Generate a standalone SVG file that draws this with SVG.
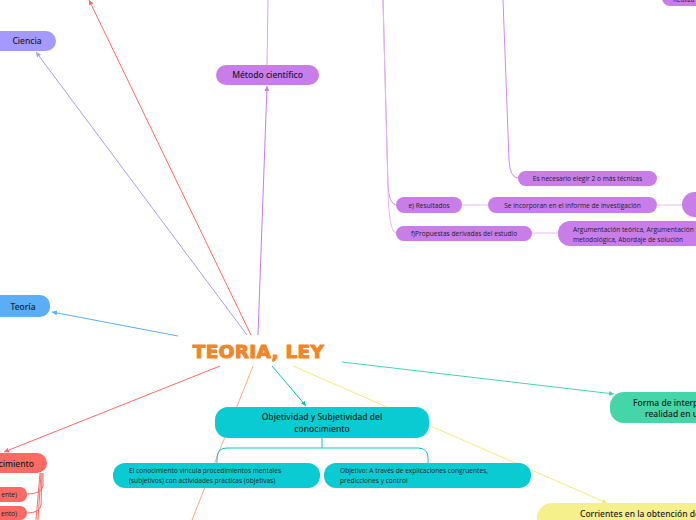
<svg xmlns="http://www.w3.org/2000/svg" width="696" height="520" viewBox="0 0 696 520">
<style>
.lbl{font-family:"Noto Sans","DejaVu Sans",sans-serif;font-size:8.5px;fill:#1a1a1a;font-weight:500}
.sm{font-family:"Open Sans","Noto Sans",sans-serif;font-size:6.6px;fill:#222}
.pur{fill:#c87de9}
.conn line,.conn path{fill:none;stroke-width:1}
</style>
<defs>
<marker id="aLav" viewBox="0 0 6 6" refX="5" refY="3" markerWidth="6" markerHeight="6" orient="auto" markerUnits="userSpaceOnUse"><path d="M0,0.5 L5,3 L0,5.5 Z" fill="#a79dfb"/></marker>
<marker id="aRed" viewBox="0 0 6 6" refX="5" refY="3" markerWidth="6" markerHeight="6" orient="auto" markerUnits="userSpaceOnUse"><path d="M0,0.5 L5,3 L0,5.5 Z" fill="#fb6b64"/></marker>
<marker id="aPur" viewBox="0 0 6 6" refX="5" refY="3" markerWidth="6" markerHeight="6" orient="auto" markerUnits="userSpaceOnUse"><path d="M0,0.5 L5,3 L0,5.5 Z" fill="#c87de9"/></marker>
<marker id="aBlue" viewBox="0 0 6 6" refX="5" refY="3" markerWidth="6" markerHeight="6" orient="auto" markerUnits="userSpaceOnUse"><path d="M0,0.5 L5,3 L0,5.5 Z" fill="#5aaef5"/></marker>
<marker id="aGrn" viewBox="0 0 6 6" refX="5" refY="3" markerWidth="6" markerHeight="6" orient="auto" markerUnits="userSpaceOnUse"><path d="M0,0.5 L5,3 L0,5.5 Z" fill="#44d6a6"/></marker>
<marker id="aYel" viewBox="0 0 6 6" refX="5" refY="3" markerWidth="6" markerHeight="6" orient="auto" markerUnits="userSpaceOnUse"><path d="M0,0.5 L5,3 L0,5.5 Z" fill="#f3ea7a"/></marker>
<marker id="aTeal" viewBox="0 0 6 6" refX="5" refY="3" markerWidth="6" markerHeight="6" orient="auto" markerUnits="userSpaceOnUse"><path d="M0,0.5 L5,3 L0,5.5 Z" fill="#0bc4cc"/></marker>
</defs>
<rect width="696" height="520" fill="#ffffff"/>
<g id="connectors" class="conn">
<line x1="247" y1="335" x2="36" y2="52" stroke="#a79dfb" marker-end="url(#aLav)"/>
<line x1="251" y1="335" x2="89" y2="0" stroke="#fb6b64" marker-end="url(#aRed)"/>
<line x1="258" y1="335" x2="267" y2="86" stroke="#c87de9" marker-end="url(#aPur)"/>
<line x1="267" y1="65" x2="268" y2="0" stroke="#d9a6f0"/>
<line x1="178" y1="336" x2="52" y2="312" stroke="#5aaef5" marker-end="url(#aBlue)"/>
<line x1="342" y1="362" x2="614" y2="394" stroke="#44d6a6" marker-end="url(#aGrn)"/>
<line x1="293" y1="366" x2="607" y2="503" stroke="#f3ea7a" marker-end="url(#aYel)"/>
<line x1="272" y1="366" x2="306" y2="406" stroke="#0bc4cc" marker-end="url(#aTeal)"/>
<line x1="253" y1="366" x2="192" y2="520" stroke="#fdae82"/>
<line x1="220" y1="366" x2="4" y2="452" stroke="#fb6b64" marker-end="url(#aRed)"/>
<path d="M383,0 L388,185 Q389,204 396,205" stroke="#cf8cec"/>
<path d="M383,0 L388,190 Q389,232 396,233" stroke="#e2b9f3"/>
<path d="M503,0 L509,160 Q510,178 518,178" stroke="#cf8cec"/>
<line x1="462" y1="205" x2="488" y2="205" stroke="#e2b9f3" stroke-width="2"/>
<line x1="657" y1="205" x2="682" y2="205" stroke="#e2b9f3" stroke-width="2"/>
<line x1="532" y1="233" x2="558" y2="233" stroke="#e2b9f3" stroke-width="2"/>
<path d="M322,438 L322,448 M322,448 L227,448 Q217,448 217,458 L217,463 M322,448 L418,448 Q428,448 428,458 L428,463" stroke="#0bc4cc"/>
<path d="M43,473 L43,486 Q42,494 27,494" stroke="#fb6b64"/>
<path d="M42,473 L41,505 Q40,513 27,513" stroke="#fb6b64"/>
<path d="M41,473 L38,520" stroke="#fb6b64"/>
<path d="M40,473 L36,520" stroke="#fb6b64"/>
</g>
<g id="center"><text x="258.5" y="358" text-anchor="middle" font-family="'DejaVu Sans',sans-serif" font-weight="900" font-size="18.5" fill="#f0862a" stroke="#f0862a" stroke-width="1.1" stroke-linejoin="round" letter-spacing="0.3">TEORIA, LEY</text></g>
<g id="ciencia"><rect x="-10" y="31" width="66" height="20" rx="10" fill="#a399ff"/><text class="lbl" x="27" y="44" text-anchor="middle">Ciencia</text></g>
<g id="metodo"><rect x="216" y="65" width="103" height="20" rx="10" class="pur"/><text class="lbl" x="267.5" y="78" text-anchor="middle">Método científico</text></g>
<g id="realiz"><rect x="662" y="-14" width="60" height="20" rx="8" class="pur"/><text class="sm" x="673" y="2">Realiza</text></g>
<g id="necesario"><rect x="518" y="171" width="139" height="15" rx="7.5" class="pur"/><text class="sm" x="587.5" y="180.5" text-anchor="middle">Es necesario elegir 2 o más técnicas</text></g>
<g id="resultados"><rect x="396" y="197" width="66" height="16" rx="8" class="pur"/><text class="sm" x="429" y="207.5" text-anchor="middle">e) Resultados</text></g>
<g id="incorporan"><rect x="488" y="197" width="169" height="16" rx="8" class="pur"/><text class="sm" x="572.5" y="207.5" text-anchor="middle">Se incorporan en el informe de investigación</text></g>
<g id="bignode"><rect x="682" y="192" width="40" height="25" rx="12.5" class="pur"/></g>
<g id="propuestas"><rect x="396" y="226" width="136" height="15" rx="7.5" class="pur"/><text class="sm" x="464" y="236" text-anchor="middle">f)Propuestas derivadas del estudio</text></g>
<g id="argumentacion"><rect x="558" y="221" width="160" height="25" rx="12" class="pur"/><text class="sm" x="573" y="232">Argumentación teórica, Argumentación</text><text class="sm" x="573" y="242">metodológica, Abordaje de solución</text></g>
<g id="teoria"><rect x="-10" y="295" width="60" height="22" rx="10" fill="#5aaef5"/><text class="lbl" x="23" y="310" text-anchor="middle">Teoría</text></g>
<g id="forma"><rect x="610" y="392" width="120" height="31" rx="14" fill="#44d6a6"/><text class="lbl" x="633" y="406">Forma de interpretar la</text><text class="lbl" x="645" y="416.5">realidad en un</text></g>
<g id="objetividad"><rect x="215" y="407" width="214" height="31" rx="13" fill="#0acbd1"/><text class="lbl" x="322" y="420" text-anchor="middle">Objetividad y Subjetividad del</text><text class="lbl" x="322" y="431.5" text-anchor="middle">conocimiento</text></g>
<g id="vincula"><rect x="113" y="463" width="207" height="25" rx="12" fill="#0acbd1"/><text class="sm" x="129" y="472.5">El conocimiento vincula procedimientos mentales</text><text class="sm" x="129" y="483">(subjetivos) con actividades prácticas (objetivas)</text></g>
<g id="objetivo"><rect x="324" y="463" width="207" height="25" rx="12" fill="#0acbd1"/><text class="sm" x="340" y="472.5">Objetivo: A través de explicaciones congruentes,</text><text class="sm" x="340" y="483">predicciones y control</text></g>
<g id="corrientes"><rect x="537" y="503" width="200" height="30" rx="15" fill="#f6f08c"/><text class="lbl" x="580" y="517">Corrientes en la obtención de</text></g>
<g id="conocimiento"><rect x="-40" y="453" width="87" height="20" rx="10" fill="#fd6a64"/><text class="lbl" x="34" y="466.5" text-anchor="end">conocimiento</text></g>
<g id="c1"><rect x="-30" y="487" width="57" height="15" rx="7" fill="#fd6a64"/><text class="sm" x="17" y="497" text-anchor="end">ente)</text></g>
<g id="c2"><rect x="-30" y="506" width="57" height="14" rx="7" fill="#fd6a64"/><text class="sm" x="17" y="515.5" text-anchor="end">ento)</text></g>
</svg>
